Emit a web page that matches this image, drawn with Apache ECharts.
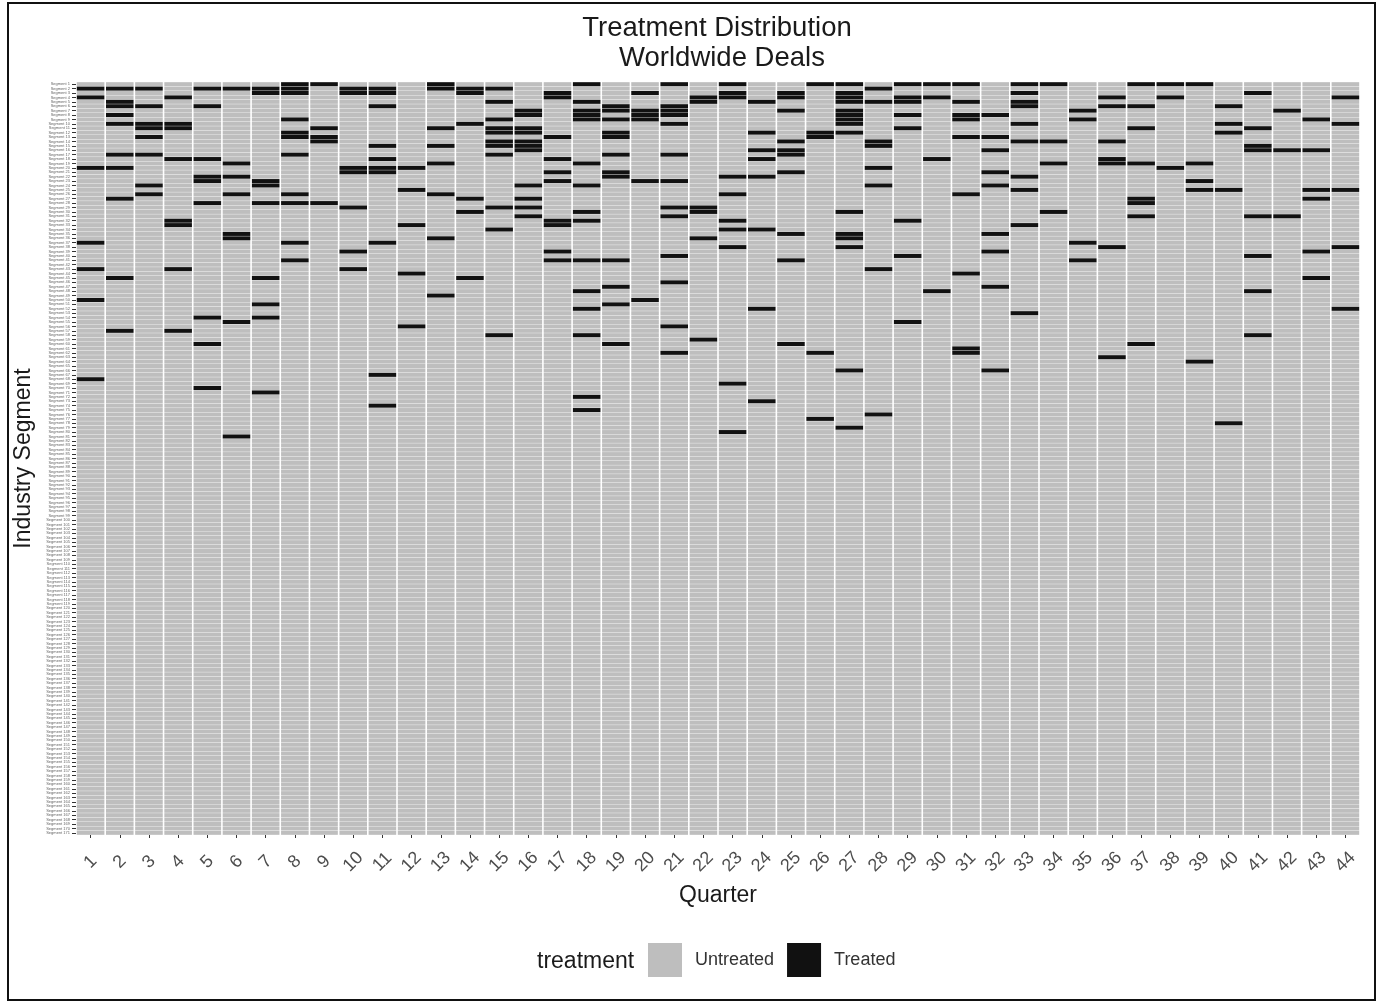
<!DOCTYPE html>
<html>
<head>
<meta charset="utf-8">
<script src="https://cdn.jsdelivr.net/npm/echarts@6/dist/echarts.min.js"></script>
<style>
html,body{margin:0;padding:0;background:#fff;}
#chart{width:1394px;height:1005px;}
</style>
</head>
<body>
<div id="chart"></div>
<script>
// Quarters (x categories)
const quarters = ['1','2','3','4','5','6','7','8','9','10','11','12','13','14','15','16','17','18','19','20','21','22',
  '23','24','25','26','27','28','29','30','31','32','33','34','35','36','37','38','39','40','41','42','43','44'];

// Industry segments (y categories, top to bottom) – names are illegible in the reference
const segmentCount = 171;
const segments = [];
for (let i = 1; i <= segmentCount; i++) segments.push('Segment ' + i);

// Treated cells: for each quarter, the segment rows (0 = top) that are treated
const treatedRows = [
  [1, 3, 19, 36, 42, 49, 67],                               // Q1
  [1, 4, 5, 7, 9, 16, 19, 26, 44, 56],                      // Q2
  [1, 5, 9, 10, 12, 16, 23, 25],                            // Q3
  [3, 9, 10, 17, 31, 32, 42, 56],                           // Q4
  [1, 5, 17, 21, 22, 27, 53, 59, 69],                       // Q5
  [1, 18, 21, 25, 34, 35, 54, 80],                          // Q6
  [1, 2, 22, 23, 27, 44, 50, 53, 70],                       // Q7
  [0, 1, 2, 8, 11, 12, 16, 25, 27, 36, 40],                 // Q8
  [0, 10, 12, 13, 27],                                      // Q9
  [1, 2, 19, 20, 28, 38, 42],                               // Q10
  [1, 2, 5, 14, 17, 19, 20, 36, 66, 73],                    // Q11
  [19, 24, 32, 43, 55],                                     // Q12
  [0, 1, 10, 14, 18, 25, 35, 48],                           // Q13
  [1, 2, 9, 26, 29, 44],                                    // Q14
  [1, 4, 8, 10, 11, 13, 14, 16, 28, 33, 57],                // Q15
  [6, 7, 10, 11, 13, 14, 15, 23, 26, 28, 30],               // Q16
  [2, 3, 12, 17, 20, 22, 31, 32, 38, 40],                   // Q17
  [0, 4, 6, 7, 8, 18, 23, 29, 31, 40, 47, 51, 57, 71, 74],  // Q18
  [5, 6, 8, 11, 12, 16, 20, 21, 40, 46, 50, 59],            // Q19
  [2, 6, 7, 8, 22, 49],                                     // Q20
  [0, 5, 6, 7, 9, 16, 22, 28, 30, 39, 45, 55, 61],          // Q21
  [3, 4, 28, 29, 35, 58],                                   // Q22
  [0, 2, 3, 21, 25, 31, 33, 37, 68, 79],                    // Q23
  [4, 11, 15, 17, 21, 33, 51, 72],                          // Q24
  [2, 3, 6, 13, 15, 16, 20, 34, 40, 59],                    // Q25
  [0, 11, 12, 61, 76],                                      // Q26
  [0, 2, 3, 4, 6, 7, 8, 9, 11, 29, 34, 35, 37, 65, 78],     // Q27
  [1, 4, 13, 14, 19, 23, 42, 75],                           // Q28
  [0, 3, 4, 7, 10, 31, 39, 54],                             // Q29
  [0, 3, 17, 47],                                           // Q30
  [0, 4, 7, 8, 12, 25, 43, 60, 61],                         // Q31
  [7, 12, 15, 20, 23, 34, 38, 46, 65],                      // Q32
  [0, 2, 4, 5, 9, 13, 21, 24, 32, 52],                      // Q33
  [0, 13, 18, 29],                                          // Q34
  [6, 8, 36, 40],                                           // Q35
  [3, 5, 13, 17, 18, 37, 62],                               // Q36
  [0, 5, 10, 18, 26, 27, 30, 59],                           // Q37
  [0, 3, 19],                                               // Q38
  [0, 18, 22, 24, 63],                                      // Q39
  [5, 9, 11, 24, 77],                                       // Q40
  [2, 10, 14, 15, 30, 39, 47, 57],                          // Q41
  [6, 15, 30],                                              // Q42
  [8, 15, 24, 26, 38, 44],                                  // Q43
  [3, 9, 24, 37, 51]                                        // Q44
];

const legendNames = ['Untreated', 'Treated'];
const legendTitle = 'treatment';

// Build cell lists from the arrays above
const untreatedCells = [];
const treatedCells = [];
for (let q = 0; q < quarters.length; q++) {
  const set = new Set(treatedRows[q]);
  for (let r = 0; r < segments.length; r++) {
    if (set.has(r)) treatedCells.push([q, r]);
    else untreatedCells.push([q, r]);
  }
}

function renderCell(params, api) {
  const p = api.coord([api.value(0), api.value(1)]);
  const s = api.size([1, 1]);
  const gx = 0.8, gy = 0.18;
  return {
    type: 'rect',
    shape: { x: p[0] - s[0] / 2 + gx, y: p[1] - s[1] / 2 + gy, width: s[0] - 2 * gx, height: s[1] - 2 * gy },
    style: { fill: api.visual('color') }
  };
}

const chart = echarts.init(document.getElementById('chart'), null, { renderer: 'canvas' });
const FONT = '"Liberation Sans", Arial, Helvetica, sans-serif';

chart.setOption({
  animation: false,
  backgroundColor: '#ffffff',
  textStyle: { fontFamily: FONT },
  title: [
    { text: 'Treatment Distribution', left: 712, top: 9, textAlign: 'center',
      textStyle: { fontSize: 27.5, fontWeight: 'normal', color: '#1a1a1a', fontFamily: FONT } },
    { text: 'Worldwide Deals', left: 717, top: 39, textAlign: 'center',
      textStyle: { fontSize: 27.5, fontWeight: 'normal', color: '#1a1a1a', fontFamily: FONT } }
  ],
  grid: { left: 76, right: 34, top: 82, bottom: 170, containLabel: false, outerBoundsMode: 'none' },
  legend: {
    data: legendNames,
    left: 648, top: 943,
    padding: 0,
    orient: 'horizontal',
    icon: 'rect',
    itemWidth: 34, itemHeight: 34,
    itemGap: 13,
    selectedMode: false,
    textStyle: { fontSize: 18, color: '#333', fontFamily: FONT, padding: [0, 0, 0, 8] }
  },
  graphic: [
    { type: 'text', left: 537, top: 950,
      style: { text: legendTitle, fontSize: 23, fill: '#1a1a1a', fontFamily: FONT } },
    { type: 'rect', shape: { x: 8, y: 3, width: 1367, height: 997 },
      style: { fill: 'none', stroke: '#111', lineWidth: 2 }, silent: true, z: 100 }
  ],
  xAxis: {
    type: 'category',
    data: quarters,
    name: 'Quarter',
    nameLocation: 'middle',
    nameGap: 49,
    nameTextStyle: { fontSize: 23, color: '#1a1a1a', fontFamily: FONT },
    axisLine: { show: false },
    axisTick: { show: true, alignWithLabel: true, length: 3, lineStyle: { color: '#333' } },
    axisLabel: { interval: 0, rotate: 45, fontSize: 18, color: '#4d4d4d', margin: 27,
      align: 'center', verticalAlign: 'middle', fontFamily: FONT },
    splitLine: { show: false }
  },
  yAxis: {
    type: 'category',
    data: segments,
    inverse: true,
    name: 'Industry Segment',
    nameLocation: 'middle',
    nameGap: 30,
    nameRotate: 90,
    nameTextStyle: { fontSize: 23, color: '#1a1a1a', fontFamily: FONT },
    axisLine: { show: false },
    axisTick: { show: true, alignWithLabel: true, interval: 0, length: 4, lineStyle: { color: '#333', width: 1 } },
    axisLabel: { interval: 0, fontSize: 4, color: '#666', margin: 6, fontFamily: FONT },
    splitLine: { show: false }
  },
  series: [
    { name: 'Untreated', type: 'custom', renderItem: renderCell, data: untreatedCells,
      encode: { x: 0, y: 1 }, itemStyle: { color: '#bebebe' }, silent: true },
    { name: 'Treated', type: 'custom', renderItem: renderCell, data: treatedCells,
      encode: { x: 0, y: 1 }, itemStyle: { color: '#111111' }, silent: true }
  ]
});
</script>
</body>
</html>
